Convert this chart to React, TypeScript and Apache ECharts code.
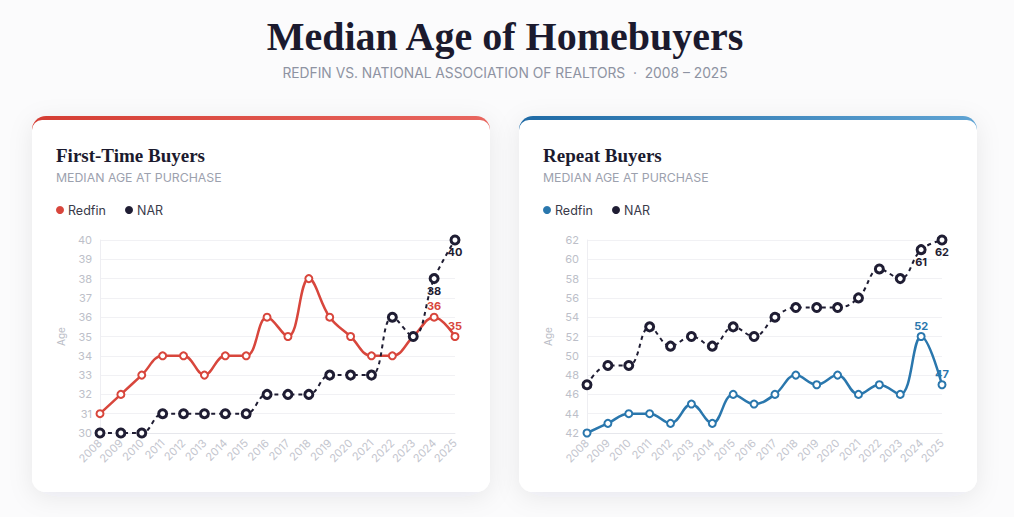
import React, { useEffect, useRef } from "react";
import * as echarts from "echarts";

const years = ["2008","2009","2010","2011","2012","2013","2014","2015","2016","2017","2018","2019","2020","2021","2022","2023","2024","2025"];
const firstRedfin = [31,32,33,34,34,33,34,34,36,35,38,36,35,34,34,35,36,35];
const firstNAR = [30,30,30,31,31,31,31,31,32,32,32,33,33,33,36,35,38,40];
const repeatRedfin = [42,43,44,44,43,45,43,46,45,46,48,47,48,46,47,46,52,47];
const repeatNAR = [47,49,49,53,51,52,51,53,52,54,55,55,55,56,59,58,61,62];
const labeledFrom = 16;

const RED = "#d8463c";
const BLUE = "#2a77ad";
const DARK = "#1f1d33";
const SANS = "Inter, 'Noto Sans', sans-serif";
const SERIF = "'Liberation Serif', 'DejaVu Serif', serif";

function points(values: number[], color: string, pos: string) {
  return values.map((v, i) =>
    i >= labeledFrom
      ? { value: v, label: { show: true, position: pos, color, fontWeight: "bold", fontSize: 11, fontFamily: SANS, distance: 1 } }
      : v
  );
}

function card(x: number, c1: string, c2: string) {
  return [
    {
      type: "rect",
      z: -21,
      shape: { x, y: 116, width: 458, height: 376, r: 14 },
      style: {
        fill: "#ffffff",
        shadowBlur: 24,
        shadowColor: "rgba(30,30,60,0.08)",
        shadowOffsetY: 5,
      },
    },
    {
      type: "rect",
      z: -20,
      shape: { x, y: 116, width: 458, height: 30, r: [14, 14, 0, 0] },
      style: {
        fill: new echarts.graphic.LinearGradient(0, 0, 1, 0, [
          { offset: 0, color: c1 },
          { offset: 1, color: c2 },
        ]),
      },
    },
    {
      type: "rect",
      z: -19,
      shape: { x, y: 120, width: 458, height: 372, r: [10, 10, 14, 14] },
      style: { fill: "#ffffff" },
    },
  ];
}

function heading(x: number, title: string, color: string) {
  return [
    { type: "text", z: 10, x, y: 155, style: { text: title, font: `bold 19px ${SERIF}`, fill: "#1b1a2e", textVerticalAlign: "middle" } },
    { type: "text", z: 10, x, y: 177, style: { text: "MEDIAN AGE AT PURCHASE", font: `12.3px ${SANS}`, fill: "#9ca1ae", textVerticalAlign: "middle" } },
    { type: "circle", z: 10, shape: { cx: x + 4, cy: 210, r: 4 }, style: { fill: color } },
    { type: "text", z: 10, x: x + 12, y: 210, style: { text: "Redfin", font: `12.5px ${SANS}`, fill: "#3a3a4a", textVerticalAlign: "middle" } },
    { type: "circle", z: 10, shape: { cx: x + 73, cy: 210, r: 4 }, style: { fill: DARK } },
    { type: "text", z: 10, x: x + 81, y: 210, style: { text: "NAR", font: `12.5px ${SANS}`, fill: "#3a3a4a", textVerticalAlign: "middle" } },
  ];
}

function xAxis(gridIndex: number) {
  return {
    type: "category",
    gridIndex,
    data: years,
    boundaryGap: false,
    axisTick: { show: false },
    axisLine: { lineStyle: { color: "#e6e7ec" } },
    axisLabel: { rotate: 45, color: "#c3c5ce", fontSize: 11, fontFamily: SANS, margin: 8, interval: 0 },
  };
}

function yAxis(gridIndex: number, min: number, max: number, interval: number) {
  return {
    type: "value",
    gridIndex,
    min,
    max,
    interval,
    name: "Age",
    nameLocation: "middle",
    nameGap: 34,
    nameTextStyle: { color: "#b9bcc6", fontSize: 10, fontFamily: SANS },
    axisLine: { show: true, lineStyle: { color: "#eeeef2" } },
    axisTick: { show: false },
    splitLine: { lineStyle: { color: "#f1f1f4" } },
    axisLabel: { color: "#bdbfc9", fontSize: 11, fontFamily: SANS, margin: 8 },
  };
}

function redfinSeries(idx: number, data: number[], color: string) {
  return {
    type: "line",
    name: "Redfin",
    xAxisIndex: idx,
    yAxisIndex: idx,
    data: points(data, color, "top"),
    smooth: 0.4,
    symbol: "circle",
    symbolSize: 7,
    lineStyle: { color, width: 2.5 },
    itemStyle: { color: "#ffffff", borderColor: color, borderWidth: 2 },
    z: 3,
  };
}

function narSeries(idx: number, data: number[]) {
  return {
    type: "line",
    name: "NAR",
    xAxisIndex: idx,
    yAxisIndex: idx,
    data: points(data, DARK, "bottom"),
    smooth: 0.4,
    symbol: "circle",
    symbolSize: 8,
    lineStyle: { color: DARK, width: 2, type: [4, 4] },
    itemStyle: { color: "#ffffff", borderColor: DARK, borderWidth: 3 },
    z: 4,
  };
}

export default function App() {
  const ref = useRef<HTMLDivElement>(null);
  useEffect(() => {
    if (!ref.current) return;
    const chart = echarts.init(ref.current, null, { renderer: "svg" });
    chart.setOption({
      animation: false,
      backgroundColor: "#fbfbfc",
      grid: [
        { left: 100, top: 240, width: 355, height: 193 },
        { left: 587, top: 240, width: 355, height: 193 },
      ],
      xAxis: [xAxis(0), xAxis(1)],
      yAxis: [yAxis(0, 30, 40, 1), yAxis(1, 42, 62, 2)],
      series: [
        redfinSeries(0, firstRedfin, RED),
        narSeries(0, firstNAR),
        redfinSeries(1, repeatRedfin, BLUE),
        narSeries(1, repeatNAR),
      ],
      graphic: {
        elements: [
          ...card(32, "#d43d33", "#e8665f"),
          ...card(519, "#1f6aa5", "#5fa3d3"),
          { type: "text", z: 10, x: 505, y: 36, style: { text: "Median Age of Homebuyers", font: `bold 40px ${SERIF}`, fill: "#1b1a2e", textAlign: "center", textVerticalAlign: "middle" } },
          { type: "text", z: 10, x: 505, y: 73, style: { text: "REDFIN VS. NATIONAL ASSOCIATION OF REALTORS  ·  2008 – 2025", font: `13.8px ${SANS}`, fill: "#8e93a2", textAlign: "center", textVerticalAlign: "middle" } },
          ...heading(56, "First-Time Buyers", RED),
          ...heading(543, "Repeat Buyers", BLUE),
        ],
      },
    });
    return () => chart.dispose();
  }, []);
  return <div ref={ref} style={{ position: "fixed", left: 0, top: 0, width: 1014, height: 517 }} />;
}
